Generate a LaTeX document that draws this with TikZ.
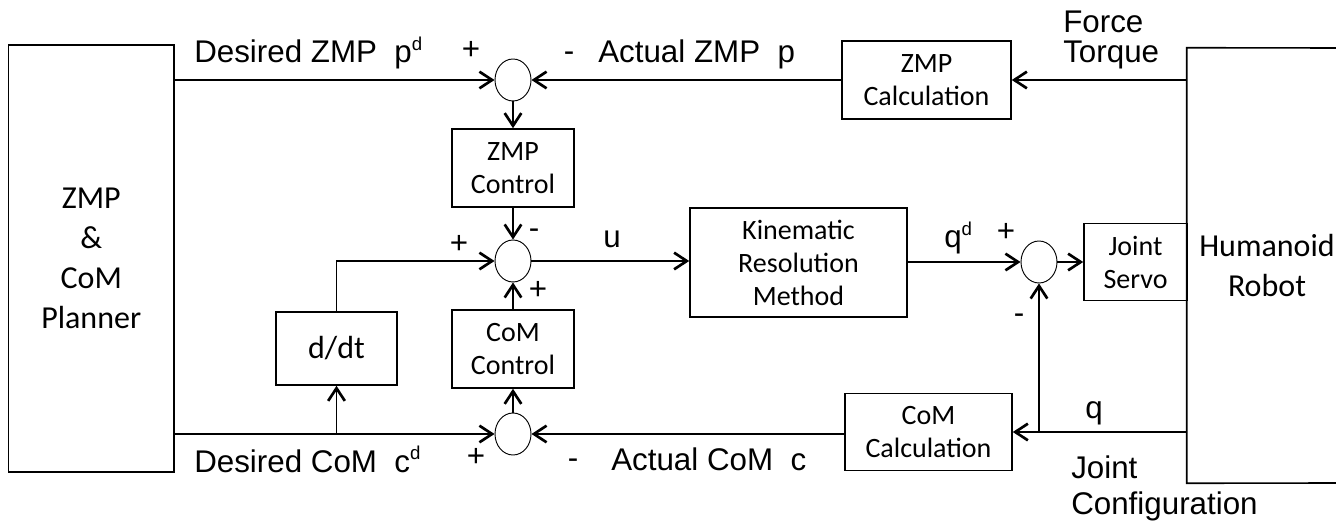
\documentclass[tikz,border=0pt]{standalone}
\usepackage{fontspec}
\setmainfont{Carlito}
\newfontfamily\arialf{Liberation Sans}
\usetikzlibrary{arrows.meta,shapes.geometric}
\begin{document}
\begin{tikzpicture}[x=0.75pt,y=-0.75pt,
  blk/.style={draw,line width=1.2pt,align=center,inner sep=0pt,font=\fontsize{21}{24.75}\selectfont},
  bigtxt/.style={font=\fontsize{24}{30}\selectfont},
  sumc/.style={draw,ellipse,line width=0.7pt,minimum width=27pt,minimum height=31.5pt,inner sep=0pt},
  conn/.style={line width=1.3pt,-{Straight Barb[length=9.5pt,width=12.5pt,line width=2pt]}},
  lbl/.style={font=\arialf\fontsize{23.5}{28}\selectfont,inner sep=0pt},
  sup/.style={},
]
\useasboundingbox (0,0) rectangle (1336,527);

% blocks
\node[blk,bigtxt,minimum width=124.1pt,minimum height=320.25pt] (planner) at (91.25,258.5) {ZMP\\\&\\CoM\\Planner};
\node[blk,minimum width=91.5pt,minimum height=58.5pt] (zmpctrl) at (513,168) {ZMP\\Control};
\node[blk,minimum width=91.5pt,minimum height=58.5pt] (comctrl) at (513,349) {CoM\\Control};
\node[blk,bigtxt,minimum width=90.75pt,minimum height=54.75pt] (ddt) at (336.5,348.5) {d/dt};
\node[blk,minimum width=162.75pt,minimum height=81.75pt] (kin) at (798.5,262.5) {Kinematic\\Resolution\\Method};
\node[blk,minimum width=126.75pt,minimum height=58.5pt] (zmpcalc) at (926.5,80) {ZMP\\Calculation};
\node[blk,minimum width=125.25pt,minimum height=57.75pt] (comcalc) at (928.5,432) {CoM\\Calculation};
\node[blk,minimum width=77.25pt,minimum height=57.75pt] (servo) at (1135.5,262) {Joint\\Servo};
\node[align=center,inner sep=0pt,bigtxt,minimum width=120pt,minimum height=326.25pt] (robot) at (1267,265.5) {Humanoid\\Robot};
\coordinate (rtop) at (1336,48);
\coordinate (rbot) at (1336,483);
\draw[line width=1.2pt] (rtop) -- (robot.north west) -- (robot.south west) -- (rbot);

% summing junctions
\node[sumc] (circ1) at (513,80) {};
\node[sumc] (circ2) at (513,261) {};
\node[sumc] (circ3) at (513,434) {};
\node[sumc] (circ4) at (1039,262) {};

% connectors
\draw[conn] (planner.east |- circ1) -- (circ1.west);
\draw[conn] (zmpcalc.west) -- (circ1.east);
\draw[conn] (robot.west |- zmpcalc.east) -- (zmpcalc.east);
\draw[conn] (circ1.south) -- (zmpctrl.north);
\draw[conn] (zmpctrl.south) -- (circ2.north);
\draw[conn] (circ2.east) -- (kin.west |- circ2);
\draw[conn] (kin.east |- circ4) -- (circ4.west);
\draw[conn] (circ4.east) -- (servo.west);
\draw[conn] (robot.west |- comcalc.east) -- (comcalc.east);
\draw[conn] (circ4 |- comcalc.east) -- (circ4.south);
\draw[conn] (comcalc.west |- circ3) -- (circ3.east);
\draw[conn] (planner.east |- circ3) -- (circ3.west);
\draw[conn] (ddt |- circ3) -- (ddt.south);
\draw[conn] (ddt.north) |- (circ2.west);
\draw[conn] (circ3.north) -- (comctrl.south);
\draw[conn] (comctrl.north) -- (circ2.south);

% labels
\node[lbl,anchor=base west] (l1) at (194,63) {Desired ZMP\ \ p\textsuperscript{\fontsize{14}{14}\selectfont d}};
\node[lbl] (l2) at (471,50) {+};
\node[lbl] (l3) at (569,52) {-\vphantom{+}};
\node[lbl,anchor=base west] (l4) at (598,63) {Actual ZMP\ \ p};
\node[lbl,anchor=base west] (l5) at (1063,33) {Force};
\node[lbl,anchor=base west] (l6) at (1063,63) {Torque};
\node[lbl,anchor=base west] (l7) at (603,248) {u};
\node[lbl] (l8) at (459,244) {+};
\node[lbl] (l9) at (534,229) {-\vphantom{+}};
\node[lbl] (l10) at (538,290) {+};
\node[lbl,anchor=base west] (l11) at (944,248) {q\textsuperscript{\fontsize{14}{14}\selectfont d}};
\node[lbl] (l12) at (1006,232) {+};
\node[lbl] (l13) at (1019,314) {-\vphantom{+}};
\node[lbl,anchor=base west] (l14) at (1085,418) {q};
\node[lbl,anchor=base west] (l15) at (1071,478) {Joint};
\node[lbl,anchor=base west] (l16) at (1071,514) {Configuration};
\node[lbl,anchor=base west] (l17) at (194,472) {Desired CoM\ \ c\textsuperscript{\fontsize{14}{14}\selectfont d}};
\node[lbl] (l18) at (476,457) {+};
\node[lbl] (l19) at (573,459) {-\vphantom{+}};
\node[lbl,anchor=base west] (l20) at (611,470) {Actual CoM\ \ c};
\end{tikzpicture}
\end{document}
